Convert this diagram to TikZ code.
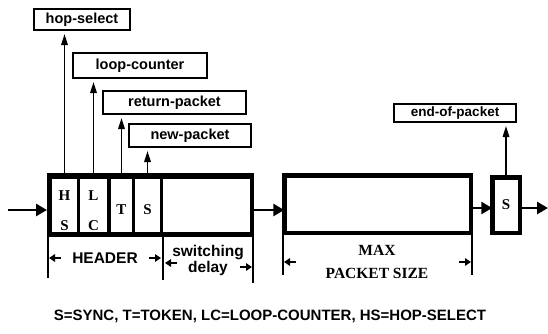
\documentclass[tikz,border=0pt]{standalone}
\usepackage{fontspec}
\setmainfont{Liberation Serif}
\newfontfamily\labfont{Liberation Sans}
\usetikzlibrary{arrows.meta}
\begin{document}
\begin{tikzpicture}[x=1pt,y=-1pt,
  lbl/.style={draw, line width=2.2pt, fill=white, inner sep=0pt, outer sep=1.1pt,
    font=\labfont\bfseries\fontsize{14.5}{16}\selectfont},
  cell/.style={fill=white, inner sep=0pt, outer sep=0pt, anchor=north west, minimum height=53pt},
  ltr/.style={font=\bfseries\fontsize{15}{17}\selectfont, inner sep=0pt},
  bigbox/.style={draw, line width=4.5pt, inner sep=0pt, outer sep=0pt},
  up/.style={line width=1.6pt, shorten >=3pt, -{Triangle[length=11pt,width=6.5pt]}},
  conn/.style={line width=2.6pt, -{Triangle[length=11pt,width=12pt]}},
  tickline/.style={line width=2pt},
  dimarrow/.style={line width=2.8pt, -{Triangle[length=6pt,width=7.5pt]}},
  dimtext/.style={font=\labfont\bfseries\fontsize{15.5}{17}\selectfont, inner sep=0pt},
  maxtext/.style={font=\bfseries\fontsize{15.5}{17}\selectfont, inner sep=0pt},
]
\useasboundingbox (0,0) rectangle (548,333);

% label boxes
\node[lbl, minimum width=95.8pt, minimum height=20.8pt] (hop) at (82,19.5) {hop-select};
\node[lbl, minimum width=133.8pt, minimum height=24.8pt] (loop) at (140,65.5) {loop-counter};
\node[lbl, minimum width=142.8pt, minimum height=22.8pt] (ret) at (174.5,102.5) {return-packet};
\node[lbl, minimum width=121.8pt, minimum height=22.8pt] (new) at (190,135.5) {new-packet};
\node[lbl, minimum width=121.8pt, minimum height=17.8pt, font=\labfont\bfseries\fontsize{13.5}{15}\selectfont] (eop) at (455,113) {end-of-packet};

% header block
\node[fill=black, inner sep=0pt, outer sep=0pt, anchor=north west, minimum width=207pt, minimum height=64pt] (hdr) at (47,173) {};
\node[cell, minimum width=25pt] (hs) at (52,179) {};
\node[cell, minimum width=27pt] (lc) at (80,179) {};
\node[cell, minimum width=21pt] (tk) at (111,179) {};
\node[cell, minimum width=25pt] (sy) at (135,179) {};
\node[cell, minimum width=87pt] (emp) at (163,179) {};

\node[ltr] (h1) at (64.5,196) {H};
\node[ltr] (s1) at (64.5,226) {S};
\node[ltr] (l1) at (93.5,196) {L};
\node[ltr] (c1) at (93.5,226) {C};
\node[ltr] (t1) at (121.5,210) {T};
\node[ltr] (s2) at (147.5,210) {S};

% max packet box and sync box
\node[bigbox, minimum width=186.5pt, minimum height=57.5pt] (max) at (377.5,204) {};
\node[bigbox, minimum width=27.5pt, minimum height=55.5pt] (sb) at (506,205) {};
\node[ltr] (s3) at (sb.center) {S};

% upward arrows
\draw[up] (hs.north |- hdr.north) -- (hs.north |- hop.south);
\draw[up] (lc.north |- hdr.north) -- (lc.north |- loop.south);
\draw[up] (tk.north |- hdr.north) -- (tk.north |- ret.south);
\draw[up] (sy.north |- hdr.north) -- (sy.north |- new.south);
\draw[up] (sb.north) -- (sb.north |- eop.south);

% main flow
\coordinate (in) at (8,210);
\coordinate (m1) at (0,210);
\coordinate (m2) at (0,208);
\coordinate (out) at (548,208);
\draw[conn] (in) -- (in -| hdr.west);
\draw[conn] (m1 -| hdr.east) -- (m1 -| max.west);
\draw[conn] (m2 -| max.east) -- (m2 -| sb.west);
\draw[conn] (m2 -| sb.east) -- (out);

% dimension lines
\draw[tickline] ([xshift=1pt]hdr.south west) -- ++(0,41);
\draw[tickline] (emp.south west |- hdr.south) -- ++(0,43);
\draw[tickline] ([xshift=-1pt]hdr.south east) -- ++(0,46);
\draw[tickline] ([xshift=-1.5pt]max.south west) -- ++(0,42);
\draw[tickline] ([xshift=1.5pt]max.south east) -- ++(0,42);

\draw[dimarrow] (61,258) -- (49,258);
\draw[dimarrow] (149,258) -- (161,258);
\node[dimtext] (hdrtxt) at (105,258) {HEADER};

\draw[dimarrow] (177,263) -- (165,263);
\draw[dimarrow] (240,267) -- (252,267);
\node[dimtext] (sw) at (208,253) {switching};
\node[dimtext] (dl) at (208,268) {delay};

\draw[dimarrow] (296,262) -- (284,262);
\draw[dimarrow] (459,262) -- (471,262);
\node[maxtext] (mx) at (377,250) {MAX};
\node[maxtext] (ps) at (377,273) {PACKET SIZE};

\node[font=\labfont\bfseries\fontsize{15}{17}\selectfont, inner sep=0pt] (foot) at (270,316) {S=SYNC, T=TOKEN, LC=LOOP-COUNTER, HS=HOP-SELECT};
\end{tikzpicture}
\end{document}
